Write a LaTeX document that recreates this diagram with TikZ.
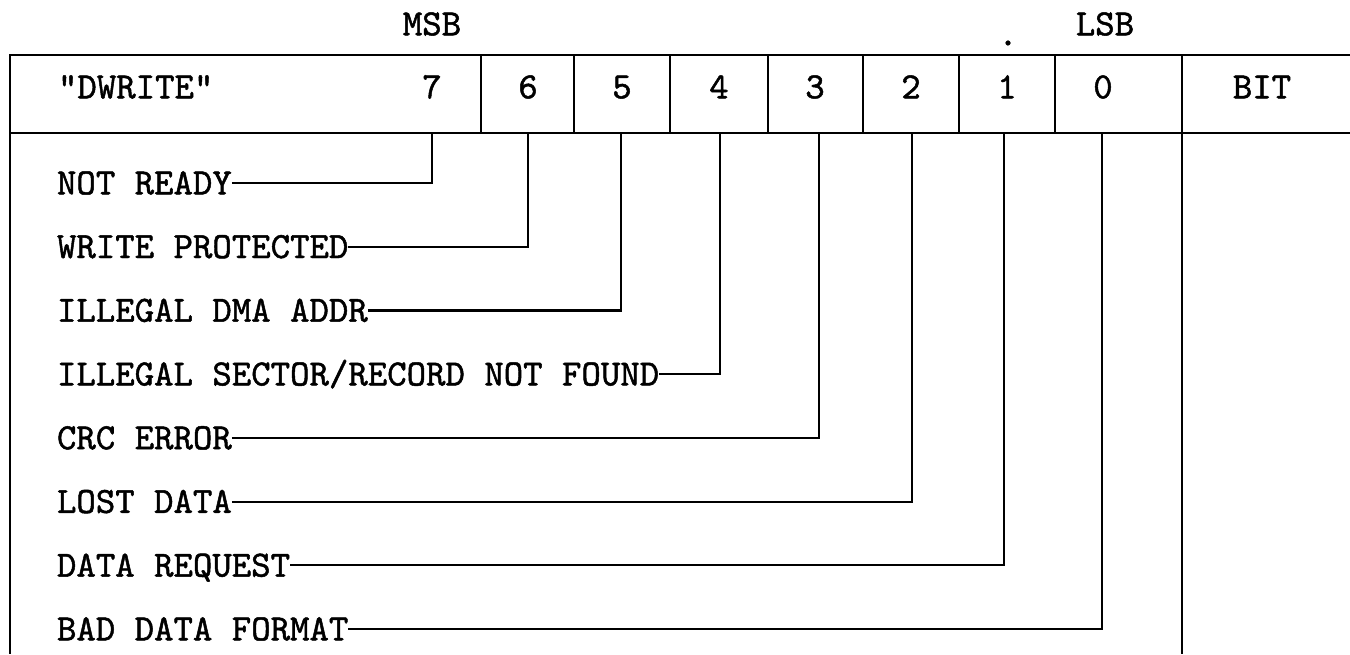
\documentclass[tikz,border=0pt]{standalone}
\usepackage{fontspec}
\newfontfamily\tw{lmmono10-regular}[Extension=.otf, FakeBold=1.3]
\begin{document}
\begin{tikzpicture}[x=0.5pt,y=-0.5pt,
  every node/.style={font=\tw\fontsize{18.5pt}{21pt}\selectfont, inner sep=0pt, outer sep=0pt, text height=11.3pt, text depth=0pt},
  rule/.style={line width=1.25pt, line join=miter},
  lead/.style={line width=1.1pt, line join=miter},
  lab/.style={anchor=west}]
\useasboundingbox (0,0) rectangle (1350,654);
% frame
\draw[rule] (1350,55) -- (10,55) -- (10,654);
\draw[rule] (10,133) -- (1350,133);
\foreach \x in {481,574,670,768,863,959,1055} \draw[rule] (\x,55) -- (\x,133);
\draw[rule] (1182,55) -- (1182,654);
% top labels
\node (msb) at (432,24) {MSB};
\node (lsb) at (1105,24) {LSB};
\node (dot) at (1008,34) {.};
% header
\node[anchor=west] (dw) at (58,87) {"DWRITE"};
\node (h7) at (432,87) {7};
\node (h6) at (528,87) {6};
\node (h5) at (622,87) {5};
\node (h4) at (719,87) {4};
\node (h3) at (815,87) {3};
\node (h2) at (911,87) {2};
\node (h1) at (1007,87) {1};
\node (h0) at (1103,87) {0};
\node (bit) at (1262,87) {BIT};
% bit tops
\coordinate (t7) at (432,133);
\coordinate (t6) at (528,133);
\coordinate (t5) at (621,133);
\coordinate (t4) at (720,133);
\coordinate (t3) at (819,133);
\coordinate (t2) at (912,133);
\coordinate (t1) at (1004,133);
\coordinate (t0) at (1102,133);
% labels
\node[lab] (l7) at (57,183) {NOT READY};
\node[lab] (l6) at (57,246.7) {WRITE PROTECTED};
\node[lab] (l5) at (57,310.4) {ILLEGAL DMA ADDR};
\node[lab] (l4) at (57,374.1) {ILLEGAL SECTOR/RECORD NOT FOUND};
\node[lab] (l3) at (57,437.9) {CRC ERROR};
\node[lab] (l2) at (57,501.6) {LOST DATA};
\node[lab] (l1) at (57,565.3) {DATA REQUEST};
\node[lab] (l0) at (57,629) {BAD DATA FORMAT};
% leaders
\foreach \i in {0,...,7} \draw[lead] (l\i.east) -| (t\i);
\end{tikzpicture}
\end{document}
